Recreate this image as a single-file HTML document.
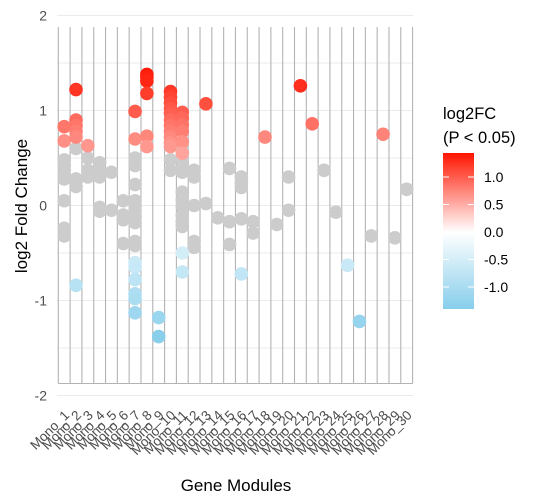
<!DOCTYPE html>
<html><head><meta charset="utf-8"><style>
body{margin:0;background:#fff;}
svg{display:block;font-family:"Liberation Sans",sans-serif;}
</style></head><body>
<svg id="chart" width="553" height="504">
<defs><linearGradient id="lg" x1="0" y1="0" x2="0" y2="1">
<stop offset="0" stop-color="#ff1500"/><stop offset="0.507" stop-color="#ffffff"/><stop offset="1" stop-color="#87ceeb"/>
</linearGradient></defs>
<g id="grid"></g>
<g id="pts"></g>
<g id="axes"></g>
<text transform="translate(27,206) rotate(-90)" text-anchor="middle" font-size="17" fill="#000">log2 Fold Change</text>
<text x="236" y="491" text-anchor="middle" font-size="17" fill="#000">Gene Modules</text>
<g>
<text x="443" y="119" font-size="16.5" fill="#000">log2FC</text>
<text x="443" y="143" font-size="16.5" fill="#000">(P &lt; 0.05)</text>
<rect x="443" y="153" width="31" height="156" fill="url(#lg)"/>
<g id="leg"></g>
</g>
</svg>
<script>
const categories = Array.from({length:30},(_,i)=>"Mono_"+(i+1));
const ticksY = [2,1,0,-1,-2];
const legendTicks = [1.0,0.5,0.0,-0.5,-1.0];
const modIdx = [];
const values = [];
const sigFlags = [];
const moduleSig = {
1:[.83,.68],2:[1.22,.9,.84,.78,.72,-.84],3:[.63],7:[.99,.7,-.6,-.65,-.78,-.93,-.98,-1.13],
8:[1.38,1.35,1.31,1.18,.73,.62],9:[-1.18,-1.38],10:[1.2,1.14,1.08,1.02,.97,.9,.84,.78,.72,.66,.62],
11:[.98,.92,.85,.78,.67,.55,-.5,-.7],13:[1.07],16:[-.72],18:[.72],21:[1.26],22:[.86],25:[-.63],26:[-1.22],28:[.75]};
const moduleNS = {
1:[.48,.42,.33,.28,.05,-.24,-.32],2:[.6,.28,.2],3:[.5,.37,.3],4:[.45,.35,.3,-.02,-.06],5:[.35,-.05],
6:[.05,-.1,-.15,-.4],7:[.5,.42,.22,.05,0,-.05,-.12,-.18,-.38,-.42],10:[.48,.37],
11:[.58,.5,.4,.35,.14,.06,-.01,-.1,-.17,-.22],12:[.37,.3,0,-.38,-.44],13:[.02],14:[-.13],15:[.39,-.17,-.41],
16:[.3,.24,.19,-.14],17:[-.17,-.29],19:[-.2],20:[.3,-.05],23:[.37],24:[-.07],27:[-.32],29:[-.34],30:[.17]};
for(const k in moduleNS){for(const v of moduleNS[k]){modIdx.push(+k);values.push(v);sigFlags.push(false);}}
for(const k in moduleSig){for(const v of moduleSig[k]){modIdx.push(+k);values.push(v);sigFlags.push(true);}}

const NS="http://www.w3.org/2000/svg";
const pL=58.3,pR=412.6,step=(pR-pL)/30;
const xS=i=>pL+step*(i-0.5);
const yS=v=>205.5-95*v;
const lyS=v=>232-55*v;
function mk(tag,attrs,parent){const e=document.createElementNS(NS,tag);for(const a in attrs)e.setAttribute(a,attrs[a]);parent.appendChild(e);return e;}
function col(v){
  let c0=[255,255,255],c1,t;
  if(v>=0){c1=[255,21,0];t=Math.min(1,v/1.42);}else{c1=[135,206,235];t=Math.min(1,-v/1.4);}
  const c=c0.map((a,j)=>Math.round(a+(c1[j]-a)*t));return `rgb(${c})`;
}
const grid=document.getElementById('grid'),axes=document.getElementById('axes'),pts=document.getElementById('pts'),leg=document.getElementById('leg');
for(let v=-2;v<=2.001;v+=0.5){
  const l=mk('line',{x1:57,x2:413,y1:yS(v),y2:yS(v),stroke:'#ebebeb','stroke-width':1},grid);
  
  
}
for(let k=0;k<=30;k++){
  const x=pL+step*k;
  const l=mk('line',{x1:x,x2:x,y1:27,y2:383.5,stroke:'#b3b3b3','stroke-width':1.1},grid);
  
  
}
const bl=mk('line',{x1:pL,x2:pR,y1:383.5,y2:383.5,stroke:'#b3b3b3','stroke-width':1.1},grid);


ticksY.forEach(v=>{
  const t=mk('text',{x:47,y:yS(v)+5,'text-anchor':'end','font-size':14,fill:'#4d4d4d'},axes);
  t.textContent=v;
  
  
});
categories.forEach((c,i)=>{
  const x=xS(i+1)+6,y=416;
  const t=mk('text',{x:x,y:y,'text-anchor':'end','font-size':13.5,fill:'#4d4d4d',transform:`rotate(-45 ${x} ${y})`},axes);
  t.textContent=c;
  
  
});
values.forEach((v,i)=>{
  const c=mk('circle',{cx:xS(modIdx[i]),cy:yS(v),r:6.8,fill:sigFlags[i]?col(v):'#cccccc'},pts);
  
  
});
legendTicks.forEach(v=>{
  const y=lyS(v);
  mk('line',{x1:443,x2:449,y1:y,y2:y,stroke:'#fff','stroke-width':1},leg);
  mk('line',{x1:468,x2:474,y1:y,y2:y,stroke:'#fff','stroke-width':1},leg);
  const t=mk('text',{x:484,y:y+5,'font-size':14,fill:'#000'},leg);
  t.textContent=v.toFixed(1);
  
  
});
</script>
</body></html>
